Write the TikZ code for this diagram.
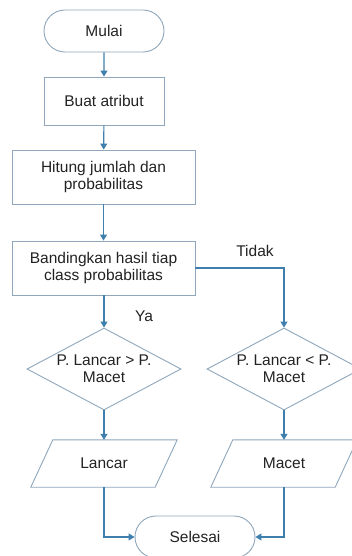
\documentclass[tikz,border=0pt]{standalone}
\usepackage{fontspec}
\setmainfont{Liberation Sans}
\usetikzlibrary{shapes.geometric,shapes.misc,arrows.meta}
\definecolor{shapeline}{HTML}{8FA6BB}
\definecolor{arrline}{HTML}{3F7FAE}
\definecolor{txtcol}{HTML}{222222}
\begin{document}
\begin{tikzpicture}[x=1pt,y=-1pt,
  every node/.style={font=\fontsize{15.5}{17}\selectfont, text=txtcol},
  base/.style={draw=shapeline, line width=0.9pt, inner sep=0pt, align=center},
  outline/.style={draw=shapeline, line width=0.9pt},
  term/.style={base, rounded rectangle, minimum width=120pt, minimum height=42pt},
  proc/.style={base, rectangle, minimum height=48pt},
  dia/.style={base, diamond, minimum width=154pt, minimum height=82pt},
  para/.style={rectangle, inner sep=0pt, minimum width=124pt, minimum height=47pt},
  arr/.style={draw=arrline, line width=1.1pt, -{Triangle[width=7pt,length=6pt]}},
  lbl/.style={inner sep=0pt}
]
\useasboundingbox (0,0) rectangle (352,556);
\node[term] (mulai) at (104,31) {Mulai};
\node[proc, minimum width=120pt] (buat) at (104,101) {Buat atribut};
\node[proc, minimum width=183pt, minimum height=54pt] (hitung) at (103.5,177) {Hitung jumlah dan\\probabilitas};
\node[proc, minimum width=183pt, minimum height=54pt] (banding) at (103.5,268) {Bandingkan hasil tiap\\class probabilitas};
\node[dia] (d1) at (104,369) {};
\node[align=center, inner sep=0pt] (d1t) at (d1) {P. Lancar > P.\\Macet};
\node[dia] (d2) at (284,369) {};
\node[align=center, inner sep=0pt] (d2t) at (d2) {P. Lancar < P.\\Macet};
\node[para] (lancar) at (104,463.5) {Lancar};
\node[para] (macet) at (284,463.5) {Macet};
\foreach \n in {lancar,macet}{
  \draw[outline] ([xshift=11pt]\n.north west) -- ([xshift=11pt]\n.north east)
    -- ([xshift=-11pt]\n.south east) -- ([xshift=-11pt]\n.south west) -- cycle;
}
\node[term] (selesai) at (195,537) {Selesai};
\coordinate (cr) at (284,268);
\node[lbl] (ya) at (144,316) {Ya};
\node[lbl] (tidak) at (255,251) {Tidak};
\draw[arr] (mulai) -- (buat);
\draw[arr] (buat) -- (hitung);
\draw[arr] (hitung) -- (banding);
\draw[arr] (banding.south -| d1.north) -- (d1.north);
\draw[arr] (banding.east |- cr) -- (cr) -- (d2.north);
\draw[arr] (d1) -- (lancar);
\draw[arr] (d2) -- (macet);
\draw[arr] (lancar.south) |- (selesai.west);
\draw[arr] (macet.south) |- (selesai.east);
\end{tikzpicture}
\end{document}
